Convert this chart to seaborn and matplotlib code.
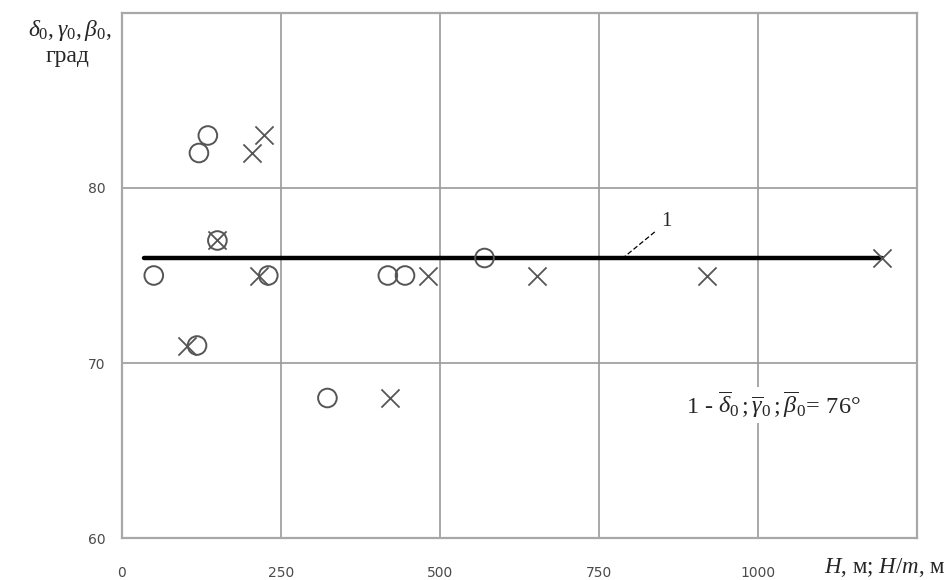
import matplotlib
matplotlib.use("Agg")
import matplotlib.pyplot as plt
import seaborn as sns
import pandas as pd

# Data
circle_h = [50, 121, 135, 150, 230, 118, 323, 418, 445, 570]
circle_v = [75, 82, 83, 77, 75, 71, 68, 75, 75, 76]
cross_h = [205, 224, 150, 216, 103, 421, 481, 652, 920, 1195]
cross_v = [82, 83, 77, 75, 71, 68, 75, 75, 75, 76]
mean_h = [34, 1195]
mean_v = [76, 76]
x_ticks = [0, 250, 500, 750, 1000, 1250]
x_labels = ["0", "250", "500", "750", "1000", ""]
y_ticks = [60, 70, 80, 90]
y_labels = ["60", "70", "80", ""]

sns.set_theme(style="white")
plt.rcParams['mathtext.fontset'] = 'custom'
plt.rcParams['mathtext.rm'] = 'Liberation Serif'
plt.rcParams['mathtext.it'] = 'Liberation Serif:italic'
plt.rcParams['font.family'] = ['DejaVu Sans']

fig = plt.figure(figsize=(9.5, 5.8), dpi=100)
ax = fig.add_axes([0.1284, 0.0724, 0.8369, 0.9052])

df_c = pd.DataFrame({"H": circle_h, "v": circle_v})
df_x = pd.DataFrame({"H": cross_h, "v": cross_v})
df_m = pd.DataFrame({"H": mean_h, "v": mean_v})

sns.lineplot(data=df_m, x="H", y="v", ax=ax, color="black", lw=3.2, zorder=3)
sns.scatterplot(data=df_c, x="H", y="v", ax=ax, marker="o", s=180,
                facecolors="none", edgecolor="#555555", linewidth=1.4, zorder=4)
sns.scatterplot(data=df_x, x="H", y="v", ax=ax, marker="x", s=170,
                color="#555555", linewidth=1.3, zorder=4)

ax.set_xlim(0, 1250)
ax.set_ylim(60, 90)
ax.set_xticks(x_ticks)
ax.set_xticklabels(x_labels)
ax.set_yticks(y_ticks)
ax.set_yticklabels(y_labels)
ax.grid(True, color="#9a9a9a", lw=1.2)
for s in ax.spines.values():
    s.set_color("#a8a8a8")
    s.set_linewidth(1.6)
ax.tick_params(axis='both', length=0, labelsize=10, labelcolor="#4a4a4a")
ax.tick_params(axis='x', pad=20)
ax.tick_params(axis='y', pad=12)
ax.set_xlabel("")
ax.set_ylabel("")

# annotation "1" with leader
ax.plot([786, 838], [75.95, 77.5], color="black", lw=0.9, ls=(0, (4, 2)), zorder=5)
ax.text(856, 78.1, "1", fontsize=15, family="Liberation Serif", ha="center", va="center")

ax.text(886, 67.6,
        r"1 - $\overline{\delta}_0\,;\overline{\gamma}_0\,;\overline{\beta}_0\!=\,76°$",
        fontsize=17.5, family="Liberation Serif", ha="left", va="center",
        bbox=dict(facecolor="white", edgecolor="none", pad=2), zorder=6)

fig.text(0.073, 0.948, r"$\delta_0,\gamma_0,\beta_0,$", fontsize=17, ha="center", va="center")
fig.text(0.071, 0.902, "град", fontsize=17, family="Liberation Serif", ha="center", va="center")

fig.text(0.995, 0.021, r"$H$, м; $H/m$, м", fontsize=16.5, family="Liberation Serif",
         ha="right", va="center")

fig.savefig("out.png", dpi=100, facecolor="white")
